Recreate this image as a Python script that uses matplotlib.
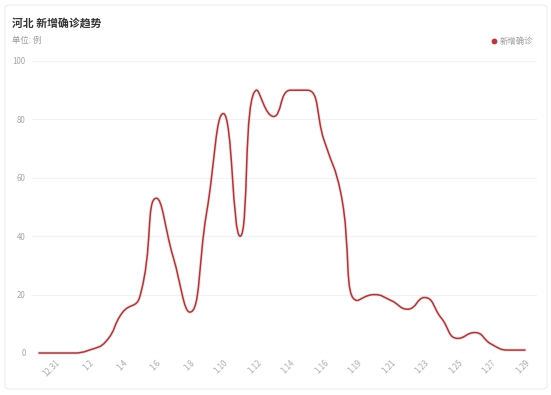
import numpy as np
import matplotlib
matplotlib.use("Agg")
import matplotlib.pyplot as plt
from matplotlib.path import Path
from matplotlib.patches import PathPatch, FancyBboxPatch

plt.rcParams['font.family'] = ['Noto Sans CJK SC', 'DejaVu Sans']

# ---------------- data ----------------
dates = ["12.30", "12.31", "1.1", "1.2", "1.3", "1.4", "1.5", "1.6", "1.7", "1.8",
         "1.9", "1.10", "1.11", "1.12", "1.13", "1.14", "1.15", "1.16", "1.18", "1.19",
         "1.20", "1.21", "1.22", "1.23", "1.24", "1.25", "1.26", "1.27", "1.28", "1.29"]
cases = [0, 0, 0, 1, 4, 14, 19, 53, 33, 14,
         48, 82, 40, 90, 81, 90, 90, 73, 55, 18,
         20, 18, 15, 19, 12, 5, 7, 3, 1, 1]
yticks = [0, 20, 40, 60, 80, 100]

title = "河北 新增确诊趋势"
unit = "单位: 例"
legend_label = "新增确诊"

LINE = "#9f3a3d"
W, H = 551, 395

fig = plt.figure(figsize=(W / 100, H / 100), dpi=100)
fig.patch.set_facecolor("white")


def fx(px):
    return px / W


def fy(py):
    return 1 - py / H


# card
card = FancyBboxPatch((fx(5), fy(389)), fx(542), 384 / H,
                      boxstyle="round,pad=0,rounding_size=0.008",
                      transform=fig.transFigure, facecolor="white",
                      edgecolor="#ececec", linewidth=0.8, zorder=-5)
fig.patches.append(card)

# axes geometry: category 0 at px 39, category 29 at px 525
n = len(dates)
x = np.arange(n)
upp = (n - 1) / (525 - 39)
ax_left_px, ax_right_px = 32, 537
ax_top_px, ax_bot_px = 61, 353
ax = fig.add_axes([fx(ax_left_px), fy(ax_bot_px),
                   (ax_right_px - ax_left_px) / W, (ax_bot_px - ax_top_px) / H])
ax.set_zorder(2)
ax.set_xlim(0 - (39 - ax_left_px) * upp, (n - 1) + (ax_right_px - 525) * upp)
ax.set_ylim(0, 100)
ax.patch.set_alpha(0)
for s in ax.spines.values():
    s.set_visible(False)

ax.set_yticks(yticks)
ax.set_yticklabels([str(v) for v in yticks])
ax.grid(axis="y", color="#f2f2f2", linewidth=0.8)
ax.set_axisbelow(True)
ax.tick_params(axis="y", length=0, pad=4.5, labelsize=5.7, labelcolor="#a6a6a6")

tick_idx = list(range(1, n, 2))
ax.set_xticks(tick_idx)
ax.set_xticklabels([dates[i] for i in tick_idx], rotation=45, ha="right",
                   va="top", rotation_mode="anchor")
ax.tick_params(axis="x", length=0, pad=4, labelsize=5.7, labelcolor="#ababab")

# ---- ECharts-like smooth curve, computed in display space ----
pts = ax.transData.transform(np.column_stack([x, np.array(cases, float)]))
smooth = 0.5
verts = [tuple(pts[0])]
codes = [Path.MOVETO]
cp0 = pts[0].copy()
for i in range(1, n):
    px_, py_ = pts[i - 1]
    X, Y = pts[i]
    if i == n - 1:
        cp1 = np.array([X, Y])
        ncp0 = None
    else:
        nx, ny = pts[i + 1]
        vx, vy = nx - px_, ny - py_
        lp = np.hypot(X - px_, Y - py_)
        ln = np.hypot(nx - X, ny - Y)
        r = ln / (ln + lp)
        ncx = X + vx * smooth * r
        ncy = Y + vy * smooth * r
        ncx = max(min(ncx, max(nx, X)), min(nx, X))
        ncy = max(min(ncy, max(ny, Y)), min(ny, Y))
        vx, vy = ncx - X, ncy - Y
        c1x = X - vx * lp / ln
        c1y = Y - vy * lp / ln
        c1x = max(min(c1x, max(px_, X)), min(px_, X))
        c1y = max(min(c1y, max(py_, Y)), min(py_, Y))
        vx, vy = X - c1x, Y - c1y
        ncp0 = np.array([X + vx * ln / lp, Y + vy * ln / lp])
        cp1 = np.array([c1x, c1y])
    verts += [tuple(cp0), tuple(cp1), (X, Y)]
    codes += [Path.CURVE4] * 3
    if ncp0 is not None:
        cp0 = ncp0

inv = ax.transData.inverted()
data_verts = inv.transform(np.array(verts))
path = Path(data_verts, codes)
ax.add_patch(PathPatch(path, fill=False, edgecolor="#eaa5a5", lw=2.6,
                       alpha=0.3, clip_on=False, capstyle="round"))
ax.add_patch(PathPatch(path, fill=False, edgecolor=LINE, lw=1.1,
                       clip_on=False, capstyle="round", joinstyle="round"))

# texts
fig.text(fx(12), fy(23), title, fontsize=7.8, fontweight="bold",
         color="#333333", va="center", ha="left")
fig.text(fx(12), fy(40), unit, fontsize=6, color="#9a9a9a",
         va="center", ha="left")

# legend
fig.add_artist(plt.Line2D([fx(494)], [fy(41)], marker="o", markersize=3.2,
                          color="#b8393b", linestyle="none",
                          transform=fig.transFigure))
fig.text(fx(500), fy(41), legend_label, fontsize=6, color="#9a9a9a",
         va="center", ha="left")

fig.savefig("out.png", dpi=100, facecolor="white")
